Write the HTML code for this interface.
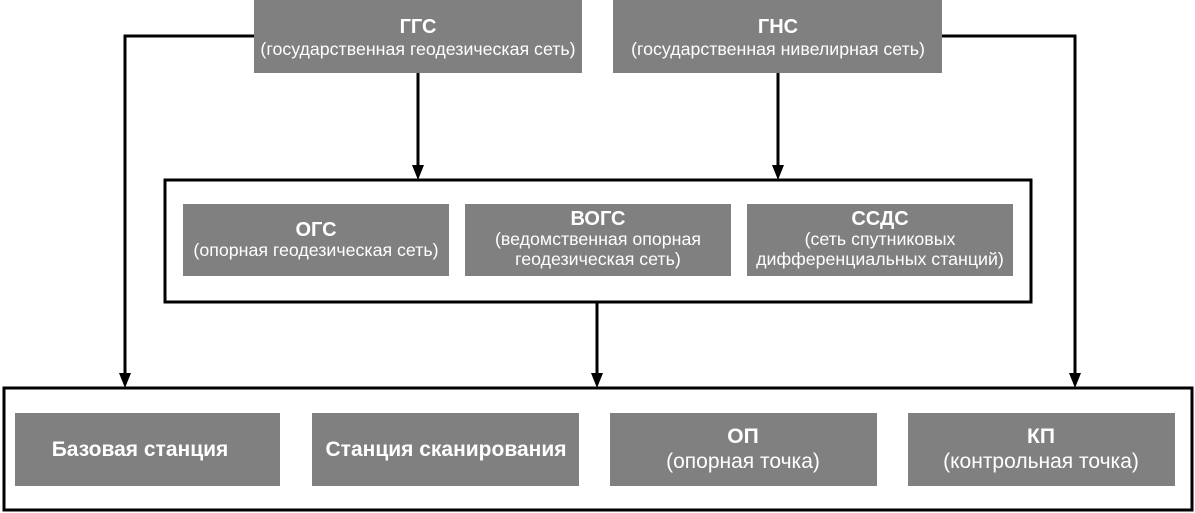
<!DOCTYPE html>
<html><head><meta charset="utf-8"><style>
html,body{margin:0;padding:0;background:#fff;width:1195px;height:513px;overflow:hidden}
svg text{font-family:"Liberation Sans",Arial,sans-serif;fill:#fff;text-anchor:middle}
.b{font-weight:bold;font-size:20px}
.s{font-size:17.8px}
.bb{font-weight:bold;font-size:21px}
.ss{font-size:21px}
</style></head><body>
<svg width="1195" height="513" viewBox="0 0 1195 513" xmlns="http://www.w3.org/2000/svg">
<g fill="#808080">
<rect x="254" y="0" width="328" height="73"/>
<rect x="613" y="0" width="329" height="73"/>
<rect x="183" y="204" width="266" height="72"/>
<rect x="465" y="204" width="266" height="72"/>
<rect x="747" y="204" width="266" height="72"/>
<rect x="15" y="413" width="265" height="73"/>
<rect x="312" y="413" width="267" height="73"/>
<rect x="610" y="413" width="267" height="73"/>
<rect x="908" y="413" width="267" height="73"/>
</g>
<g fill="none" stroke="#000" stroke-width="3">
<rect x="165" y="180" width="866" height="122"/>
<rect x="4" y="388" width="1188" height="122"/>
<polyline points="254,36 125,36 125,374"/>
<polyline points="942,36 1075,36 1075,374"/>
<line x1="418" y1="73" x2="418" y2="166"/>
<line x1="778" y1="73" x2="778" y2="166"/>
<line x1="597" y1="302" x2="597" y2="374"/>
</g>
<g fill="#000">
<path d="M412,165 L424,165 L418,180 Z"/>
<path d="M772,165 L784,165 L778,180 Z"/>
<path d="M119,373 L131,373 L125,388 Z"/>
<path d="M1069,373 L1081,373 L1075,388 Z"/>
<path d="M591,373 L603,373 L597,388 Z"/>
</g>
<text class="b" x="418" y="33">ГГС</text>
<text class="s" x="418" y="55">(государственная геодезическая сеть)</text>
<text class="b" x="778" y="33">ГНС</text>
<text class="s" x="778" y="55">(государственная нивелирная сеть)</text>
<text class="b" x="316" y="236">ОГС</text>
<text class="s" x="316" y="256">(опорная геодезическая сеть)</text>
<text class="b" x="598" y="225">ВОГС</text>
<text class="s" x="598" y="245">(ведомственная опорная</text>
<text class="s" x="598" y="265">геодезическая сеть)</text>
<text class="b" x="880" y="225">ССДС</text>
<text class="s" x="880" y="245">(сеть спутниковых</text>
<text class="s" x="880" y="265">дифференциальных станций)</text>
<text class="bb" x="140" y="456">Базовая станция</text>
<text class="bb" x="446" y="456">Станция сканирования</text>
<text class="bb" x="743" y="443">ОП</text>
<text class="ss" x="743" y="468">(опорная точка)</text>
<text class="bb" x="1041" y="443">КП</text>
<text class="ss" x="1041" y="468">(контрольная точка)</text>
</svg>
</body></html>
